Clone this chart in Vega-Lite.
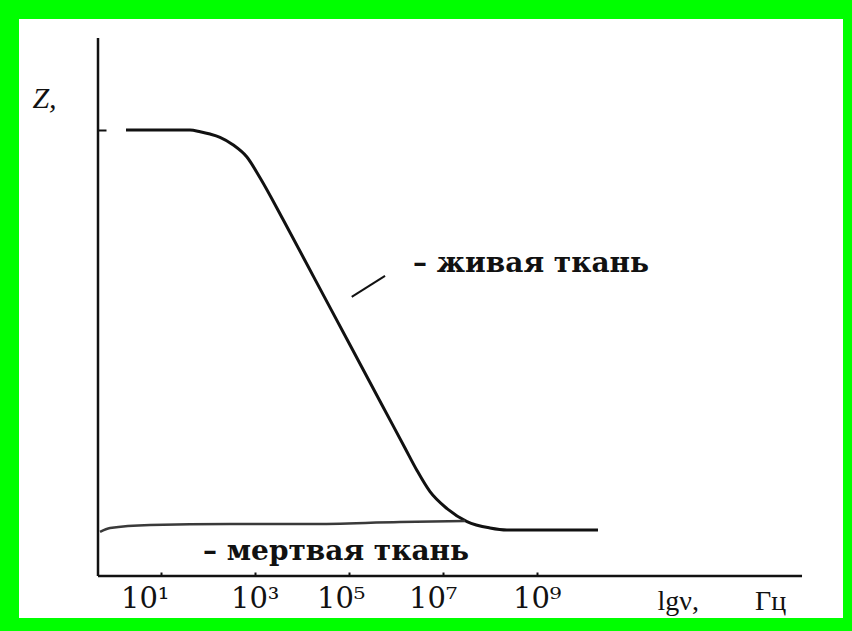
{
  "$schema": "https://vega.github.io/schema/vega-lite/v6.json",
  "width": 824,
  "height": 599,
  "autosize": "none",
  "padding": {"left": 19, "top": 19, "right": 9, "bottom": 13},
  "background": "#00ff00",
  "config": {
    "view": {"fill": "white", "stroke": null},
    "font": "DejaVu Serif"
  },
  "datasets": {
    "live": [
      {"lg": 0.262, "Z": 100},
      {"lg": 1.0, "Z": 100},
      {"lg": 1.623, "Z": 100},
      {"lg": 1.84, "Z": 99.62},
      {"lg": 2.049, "Z": 99.1},
      {"lg": 2.262, "Z": 98.36},
      {"lg": 2.545, "Z": 96.64},
      {"lg": 2.83, "Z": 94.0},
      {"lg": 3.113, "Z": 89.3},
      {"lg": 3.609, "Z": 79.82},
      {"lg": 4.3, "Z": 66.17},
      {"lg": 5.0, "Z": 52.35},
      {"lg": 5.7, "Z": 38.52},
      {"lg": 6.2, "Z": 28.65},
      {"lg": 6.447, "Z": 23.77},
      {"lg": 6.73, "Z": 18.9},
      {"lg": 7.092, "Z": 15.1},
      {"lg": 7.517, "Z": 12.2},
      {"lg": 8.006, "Z": 10.76},
      {"lg": 8.368, "Z": 10.31},
      {"lg": 10.304, "Z": 10.31}
    ],
    "dead": [
      {"lg": -0.291, "Z": 9.87},
      {"lg": -0.078, "Z": 10.76},
      {"lg": 0.772, "Z": 11.43},
      {"lg": 2.474, "Z": 11.66},
      {"lg": 4.177, "Z": 11.66},
      {"lg": 6.091, "Z": 12.11},
      {"lg": 7.474, "Z": 12.33}
    ],
    "one": [{}]
  },
  "layer": [
    {
      "data": {"name": "live"},
      "mark": {"type": "line", "interpolate": "monotone", "color": "#111111", "strokeWidth": 3},
      "encoding": {
        "x": {
          "field": "lg", "type": "quantitative",
          "scale": {"domain": [-2.015, 15.517], "nice": false, "zero": false},
          "axis": {
            "orient": "bottom", "offset": -42, "domain": false, "grid": false,
            "values": [1, 3, 5, 7, 9],
            "labelExpr": "'10' + ['⁰','¹','²','³','⁴','⁵','⁶','⁷','⁸','⁹'][datum.value]",
            "labelFont": "DejaVu Serif", "labelFontSize": 29, "labelColor": "#111111",
            "labelBaseline": "alphabetic", "labelPadding": 35, "labelFlush": false, "labelOverlap": false,
            "labelOffset": {"condition": [{"test": "datum.value == 1", "value": -16}, {"test": "datum.value == 5", "value": -8}, {"test": "datum.value == 7", "value": -10}], "value": 0},
            "tickColor": "#111111", "tickWidth": 2, "tickSize": -4,
            "title": "lgν,\u00a0\u00a0\u00a0\u00a0\u00a0\u00a0\u00a0\u00a0Гц",
            "titleFont": "Liberation Serif", "titleFontSize": 28, "titleFontWeight": "normal", "titleColor": "#111111",
            "titleX": 638, "titleY": 33, "titleAlign": "left", "titleBaseline": "alphabetic", "titleAnchor": "start"
          }
        },
        "y": {
          "field": "Z", "type": "quantitative",
          "scale": {"domain": [-9.42, 124.89], "nice": false, "zero": false},
          "axis": {
            "orient": "left", "offset": -79, "domain": false, "grid": false,
            "values": [100], "labels": false,
            "tickColor": "#111111", "tickWidth": 2, "tickSize": -8,
            "title": "Z,", "titleFont": "Liberation Serif", "titleFontSize": 30,
            "titleFontStyle": "italic", "titleFontWeight": "normal", "titleColor": "#111111",
            "titleAngle": 0, "titleX": -54, "titleY": 79, "titleAlign": "center", "titleBaseline": "middle"
          }
        }
      }
    },
    {
      "data": {"name": "dead"},
      "mark": {"type": "line", "interpolate": "monotone", "color": "#3a3a3a", "strokeWidth": 2.5},
      "encoding": {
        "x": {"field": "lg", "type": "quantitative"},
        "y": {"field": "Z", "type": "quantitative"}
      }
    },
    {
      "data": {"name": "one"},
      "mark": {"type": "rule", "color": "#111111", "strokeWidth": 2.5},
      "encoding": {
        "x": {"datum": -0.334, "type": "quantitative"},
        "x2": {"datum": 14.645},
        "y": {"datum": 0, "type": "quantitative"}
      }
    },
    {
      "data": {"name": "one"},
      "mark": {"type": "rule", "color": "#111111", "strokeWidth": 2.5},
      "encoding": {
        "x": {"datum": -0.334, "type": "quantitative"},
        "y": {"datum": 0, "type": "quantitative"},
        "y2": {"datum": 120.63}
      }
    },
    {
      "data": {"name": "one"},
      "mark": {"type": "rule", "color": "#111111", "strokeWidth": 2},
      "encoding": {
        "x": {"datum": 5.064, "type": "quantitative"},
        "x2": {"datum": 5.773},
        "y": {"datum": 62.6, "type": "quantitative"},
        "y2": {"datum": 67.3}
      }
    },
    {
      "data": {"name": "one"},
      "mark": {"type": "text", "font": "DejaVu Serif", "fontSize": 28, "fontWeight": "bold", "color": "#111111", "align": "left", "baseline": "alphabetic"},
      "encoding": {
        "x": {"datum": 6.368, "type": "quantitative"},
        "y": {"datum": 68.16, "type": "quantitative"},
        "text": {"value": "– живая ткань"}
      }
    },
    {
      "data": {"name": "one"},
      "mark": {"type": "text", "font": "DejaVu Serif", "fontSize": 28, "fontWeight": "bold", "color": "#111111", "align": "left", "baseline": "alphabetic"},
      "encoding": {
        "x": {"datum": 1.9, "type": "quantitative"},
        "y": {"datum": 3.59, "type": "quantitative"},
        "text": {"value": "– мертвая ткань"}
      }
    }
  ]
}
